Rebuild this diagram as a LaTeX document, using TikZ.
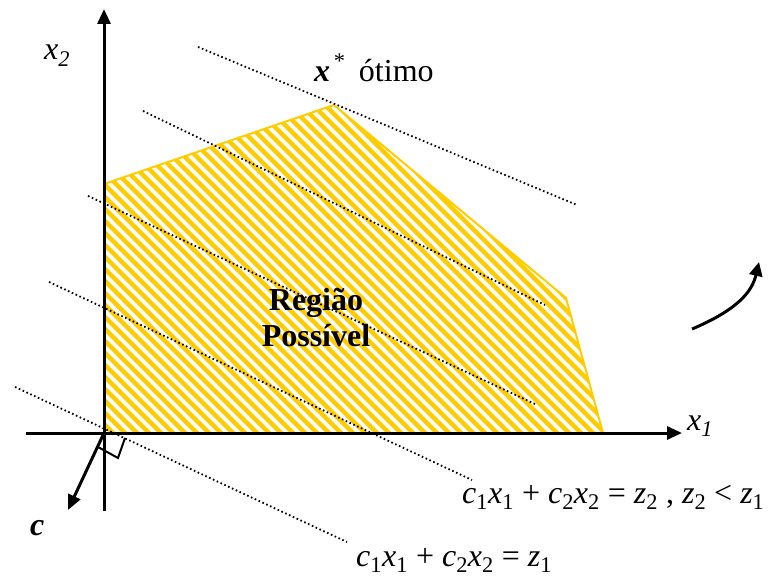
\documentclass[tikz,border=0pt]{standalone}
\usepackage{fontspec}
\setmainfont{Liberation Serif}
\usetikzlibrary{arrows.meta}
\definecolor{gold}{HTML}{FFCC00}
\tikzset{
  axis/.style={line width=3pt, -{Triangle[length=15pt,width=13pt]}},
  levelline/.style={line width=1.8pt, dash pattern=on 1.6pt off 2.6pt},
  stripe/.style={gold, line width=4.5pt},
  label/.style={inner sep=0pt, anchor=base west, font=\fontsize{32}{36}\selectfont},
}
\begin{document}
\begin{tikzpicture}[x=1pt,y=-1pt]
\useasboundingbox (0,0) rectangle (768,577);
% feasible region
\coordinate (o) at (104,433);
\coordinate (p1) at (104,184);
\coordinate (p2) at (334,105);
\coordinate (p3) at (566,298);
\coordinate (p4) at (603,433);
\begin{scope}
\clip (o) -- (p1) -- (p2) -- (p3) -- (p4) -- cycle;
\foreach \k in {-320,-308,...,620}
  \draw[stripe] (\k,60) -- (\k+400,460);
\end{scope}
\draw[gold, line width=2pt] (o) -- (p1) -- (p2) -- (p3) -- (p4) -- cycle;
% level lines
\coordinate (a1) at (198,47);  \coordinate (b1) at (577,205);
\coordinate (a2) at (143,111); \coordinate (b2) at (545,305);
\coordinate (a3) at (88,196);  \coordinate (b3) at (535,404);
\coordinate (a4) at (49,282);  \coordinate (b4) at (472,480);
\coordinate (a5) at (15,387);  \coordinate (b5) at (347,542);
\foreach \i in {1,...,5}
  \draw[levelline] (a\i) -- (b\i);
% axes
\coordinate (xs) at (26,433);  \coordinate (xe) at (682,433);
\coordinate (ys) at (104,511); \coordinate (ye) at (104,9);
\draw[axis] (xs) -- (xe);
\draw[axis] (ys) -- (ye);
% gradient c
\coordinate (ct) at (68,510);
\draw[line width=3pt, -{Triangle[length=15pt,width=13pt]}] (o) -- (ct);
\coordinate (r1) at (98,447);
\coordinate (r2) at (118,458);
\coordinate (r3) at (125,438);
\draw[line width=2pt] (r1) -- (r2) -- (r3);
% direction of improvement
\coordinate (ds) at (692,329);
\coordinate (de) at (759,262);
\draw[line width=3pt, -{Triangle[length=14pt,width=13pt]}] (ds) .. controls (737,310) and (752,292) .. (de);
% labels
\node[label] (lx2) at (44,60) {\textit{x\textsubscript{2}}};
\node[label] (lx1) at (687,430) {\textit{x\textsubscript{1}}};
\node[label] (lc) at (30,535) {\textbf{\textit{c}}};
\node[label] (lopt) at (314,82) {\textbf{\textit{x}}\raisebox{4pt}{\textsuperscript{\,*}}\ \,ótimo};
\node[inner sep=0pt, align=center, font=\fontsize{32}{36}\selectfont\bfseries] (reg) at (316,318) {Região\\Possível};
\node[label] (eqtwo) at (462,503) {\textit{c}\textsubscript{1}\textit{x}\textsubscript{1} + \textit{c}\textsubscript{2}\textit{x}\textsubscript{2} = \textit{z}\textsubscript{2} ,\ \textit{z}\textsubscript{2} < \textit{z}\textsubscript{1}};
\node[label] (eqone) at (356,566) {\textit{c}\textsubscript{1}\textit{x}\textsubscript{1} + \textit{c}\textsubscript{2}\textit{x}\textsubscript{2} = \textit{z}\textsubscript{1}};
\end{tikzpicture}
\end{document}
